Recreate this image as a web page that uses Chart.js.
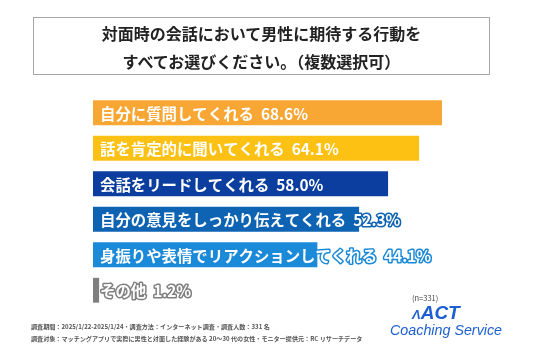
<!DOCTYPE html>
<html><head><meta charset="utf-8">
<script src="https://cdn.jsdelivr.net/npm/chart.js@4/dist/chart.umd.min.js"></script>
<style>
html,body{margin:0;padding:0;background:#fff;}
#wrap{position:relative;width:536px;height:357px;overflow:hidden;font-family:"Noto Sans CJK JP","Noto Sans",sans-serif;}
canvas{position:absolute;left:0;top:0;}
#title{position:absolute;left:33px;top:17px;width:455px;height:55px;border:1px solid #a6a6a6;text-align:center;font-weight:bold;font-size:16px;line-height:28px;color:#222;box-sizing:content-box;padding-top:1px;}
#n{position:absolute;left:412px;top:292px;font-size:7.5px;color:#444;}
#logo1{position:absolute;left:412px;top:302px;font-family:"Liberation Sans",Arial,sans-serif;font-style:italic;font-weight:bold;font-size:19px;color:#1d5fd0;white-space:nowrap;}
#logo1 span{font-size:13px;}
#logo2{position:absolute;left:390px;top:322px;font-family:"Liberation Sans",Arial,sans-serif;font-style:italic;font-size:14.3px;color:#1d5fd0;white-space:nowrap;}
.foot{position:absolute;left:31px;font-size:6.1px;color:#555;white-space:nowrap;font-weight:bold;}
</style></head>
<body><div id="wrap">
<canvas id="c" width="536" height="357"></canvas>
<div id="title">対面時の会話において男性に期待する行動を<br>すべてお選びください。（複数選択可）</div>
<div id="n">(n=331)</div>
<div id="logo1"><span>Λ</span>ACT</div>
<div id="logo2">Coaching Service</div>
<div class="foot" style="top:322px">調査期間：2025/1/22-2025/1/24・調査方法：インターネット調査・調査人数：331 名</div>
<div class="foot" style="top:334px">調査対象：マッチングアプリで実際に男性と対面した経験がある 20～30 代の女性・モニター提供元：RC リサーチデータ</div>
</div>
<script>
const categories = ["自分に質問してくれる","話を肯定的に聞いてくれる","会話をリードしてくれる","自分の意見をしっかり伝えてくれる","身振りや表情でリアクションしてくれる","その他"];
const values = [68.6,64.1,58.0,52.3,44.1,1.2];
const colors = ["#f8a634","#fdc114","#0b3e9e","#0e63b3","#1b8ad8","#7f7f7f"];

const labelPlugin = {
  id:'barLabels',
  afterDatasetsDraw(chart){
    const ctx = chart.ctx;
    const meta = chart.getDatasetMeta(0);
    ctx.save();
    ctx.font = 'bold 15.4px "Noto Sans CJK JP", sans-serif';
    ctx.textBaseline = 'middle';
    ctx.lineJoin = 'round';
    meta.data.forEach((bar,i)=>{
      const txt = categories[i] + '  ' + values[i].toFixed(1) + '%';
      const x = bar.base + 7;
      const y = bar.y + 1;
      ctx.strokeStyle = colors[i];
      ctx.lineWidth = 3;
      ctx.strokeText(txt,x,y);
      ctx.fillStyle = '#fff';
      ctx.fillText(txt,x,y);
    });
    ctx.restore();
  }
};

new Chart(document.getElementById('c'),{
  type:'bar',
  data:{labels:categories,datasets:[{data:values,backgroundColor:colors,borderWidth:0,categoryPercentage:1,barPercentage:0.7}]},
  options:{
    indexAxis:'y',responsive:false,animation:false,
    layout:{padding:{left:93,right:36,top:95,bottom:49}},
    plugins:{legend:{display:false},tooltip:{enabled:false}},
    scales:{x:{display:false,min:0,max:80},y:{display:false}}
  },
  plugins:[labelPlugin]
});
</script>
</body></html>
